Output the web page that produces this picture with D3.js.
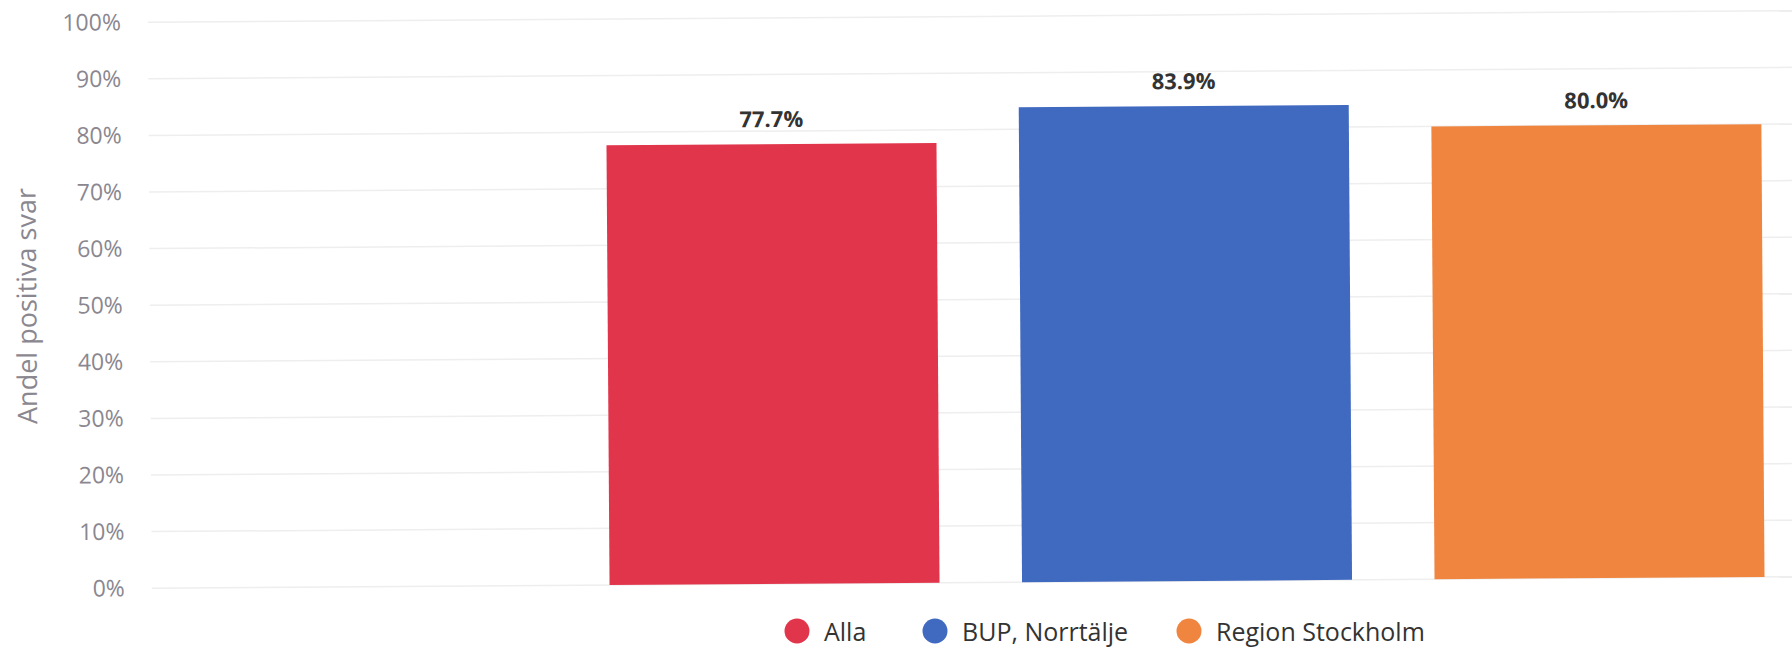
<!DOCTYPE html>
<html><head><meta charset="utf-8">
<script src="https://cdn.jsdelivr.net/npm/d3@7"></script>
<style>body{margin:0;background:#fff;}svg{display:block;}</style>
</head><body>
<svg id="chart" width="1792" height="652"></svg>
<script>
const categories = ["", "Alla", "BUP, Norrtälje", "Region Stockholm"];
const values = [null, 77.7, 83.9, 80.0];
const colors = [null, "#e1354b", "#4069c0", "#ef853f"];
const yTicks = [0,10,20,30,40,50,60,70,80,90,100];
const legendNames = ["Alla", "BUP, Norrtälje", "Region Stockholm"];
const legendColors = ["#e1354b", "#4069c0", "#ef853f"];
const yTitle = "Andel positiva svar";

const svg = d3.select("#chart");
const font = "'Open Sans', sans-serif";
const plot = {left: 154, right: 1804, top: 17, bottom: 583};

const root = svg.append("g").attr("transform", "rotate(-0.4, 896, 326)");

const x = d3.scaleBand().domain(categories).range([plot.left, plot.right]).paddingInner(0.2).paddingOuter(0.1);
const y = d3.scaleLinear().domain([0,100]).range([plot.bottom, plot.top]);

// grid
root.append("g").selectAll("line").data(yTicks).join("line")
  .attr("x1", 150).attr("x2", 1800)
  .attr("y1", d=>y(d)).attr("y2", d=>y(d))
  .attr("stroke", "#eeeeee").attr("stroke-width", 1.5);

// y axis labels
const yAxis = d3.axisLeft(y).tickValues(yTicks).tickFormat(d=>d+"%").tickSize(0).tickPadding(0);
const ga = root.append("g").attr("transform", `translate(123,0)`).call(yAxis);
ga.select(".domain").remove();
ga.selectAll("text").attr("font-family", font).attr("font-size", 23).attr("fill", "#8a8790");

// y title
root.append("text").attr("transform", `translate(26,${(plot.top+plot.bottom)/2}) rotate(-90)`)
  .attr("text-anchor","middle").attr("dominant-baseline","central")
  .attr("font-family", font).attr("font-size", 27).attr("fill", "#8a8790").text(yTitle);

// bars
const data = categories.map((c,i)=>({c, v: values[i], col: colors[i]})).filter(d=>d.v!=null);
root.append("g").selectAll("rect").data(data).join("rect")
  .attr("x", d=>x(d.c)).attr("width", x.bandwidth())
  .attr("y", d=>y(d.v)).attr("height", d=>y(0)-y(d.v))
  .attr("fill", d=>d.col);

root.append("g").selectAll("text").data(data).join("text")
  .attr("x", d=>x(d.c)+x.bandwidth()/2).attr("y", d=>y(d.v)-17)
  .attr("text-anchor","middle").attr("font-family", font).attr("font-weight", "bold")
  .attr("font-size", 22).attr("fill", "#333").text(d=>d.v.toFixed(1)+"%");

// legend
const legX = [797, 935, 1189];
const lg = svg.append("g").selectAll("g").data(legendNames).join("g")
  .attr("transform", (d,i)=>`translate(${legX[i]},631)`);
lg.append("circle").attr("r", 12.5).attr("fill", (d,i)=>legendColors[i]);
lg.append("text").attr("x", 27).attr("dominant-baseline","central")
  .attr("font-family", font).attr("font-size", 25).attr("font-weight", 500).attr("fill", "#333").text(d=>d);
</script>
</body></html>
